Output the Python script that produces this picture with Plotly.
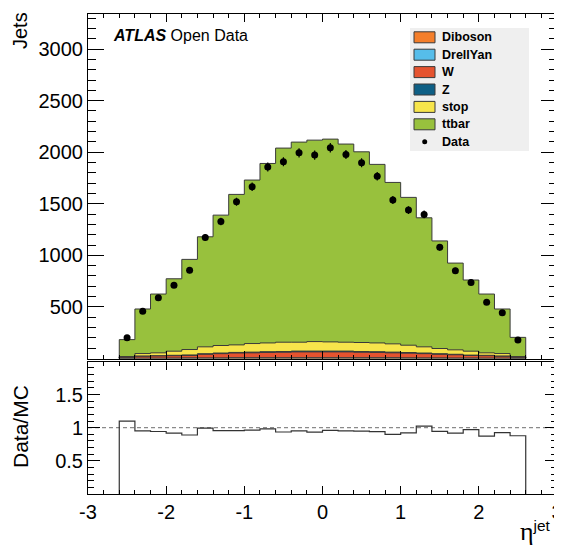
import numpy as np
import plotly.graph_objects as go

# ---------------- data ----------------
eta_edges = [-2.6, -2.4, -2.2, -2.0, -1.8, -1.6, -1.4, -1.2, -1.0, -0.8, -0.6, -0.4, -0.2,
             0.0, 0.2, 0.4, 0.6, 0.8, 1.0, 1.2, 1.4, 1.6, 1.8, 2.0, 2.2, 2.4, 2.6]
eta_centers = [-2.5, -2.3, -2.1, -1.9, -1.7, -1.5, -1.3, -1.1, -0.9, -0.7, -0.5, -0.3, -0.1,
               0.1, 0.3, 0.5, 0.7, 0.9, 1.1, 1.3, 1.5, 1.7, 1.9, 2.1, 2.3, 2.5]

diboson = [1, 2, 2, 2, 3, 3, 3, 4, 4, 4, 4, 4, 4, 4, 4, 4, 4, 4, 3, 3, 3, 2, 2, 2, 2, 1]
drellyan = [1, 1, 1, 2, 2, 2, 2, 3, 3, 3, 3, 3, 3, 3, 3, 3, 3, 3, 3, 2, 2, 2, 2, 1, 1, 1]
w_jets = [10, 18, 21, 23, 25, 36, 42, 46, 48, 52, 54, 57, 57, 57, 57, 54, 52, 48, 46, 42, 36, 32, 25, 24, 18, 10]
z_jets = [2, 3, 3, 4, 4, 5, 6, 6, 7, 7, 7, 8, 8, 8, 8, 7, 7, 7, 6, 6, 5, 5, 4, 4, 3, 2]
stop = [4, 24, 28, 40, 53, 67, 73, 73, 83, 85, 90, 86, 92, 89, 86, 87, 85, 80, 71, 60, 51, 43, 38, 24, 24, 4]
ttbar = [165, 432, 570, 702, 874, 1067, 1264, 1459, 1585, 1740, 1882, 1940, 1953, 1966, 1921,
         1849, 1731, 1565, 1433, 1251, 1043, 841, 690, 570, 432, 187]
data = [201, 457, 589, 709, 855, 1173, 1329, 1519, 1665, 1856, 1907, 1994, 1972, 2043, 1978,
        1897, 1767, 1536, 1439, 1397, 1078, 850, 738, 545, 444, 180]

x_tick_vals = [-3, -2, -1, 0, 1, 2, 3]
x_tick_text = ["-3", "-2", "-1", "0", "1", "2", "3"]
y_tick_vals = [500, 1000, 1500, 2000, 2500, 3000]
r_tick_vals = [0.5, 1, 1.5]
r_tick_text = ["0.5", "1", "1.5"]

sample_names = ["Diboson", "DrellYan", "W", "Z", "stop", "ttbar"]
sample_values = [diboson, drellyan, w_jets, z_jets, stop, ttbar]
sample_colors = ["#F47E2A", "#56BDEA", "#E5532F", "#0E5F85", "#F7E54B", "#98C13D"]

# ---------------- geometry (page pixels; page body has an 8px margin) ----------------
OFF = 8
W, H = 562 - OFF, 546 - OFF
PL, PR, PT, PB = 88, 557, 14, 494          # plot area in page pixels
ML, MT = PL - OFF, PT - OFF
MR = (W + OFF) - PR
MB = (H + OFF) - PB
PW = PR - PL
PH = PB - PT


def px(x):
    return (x - PL) / PW


def py(y):
    return (PB - y) / PH


FONT = "Liberation Sans, Arial, Helvetica, sans-serif"
OUTLINE = "#3a3a3a"


def step(vals):
    x = [eta_edges[0]] + list(eta_edges) + [eta_edges[-1]]
    y = [0] + list(vals) + [vals[-1], 0]
    return x, y


fig = go.Figure()

cum = np.zeros(len(eta_centers))
cums = []
for name, vals, col in zip(sample_names, sample_values, sample_colors):
    cum = cum + np.array(vals, dtype=float)
    cums.append((name, cum.copy(), col))

for name, c, col in reversed(cums):
    sx, sy = step(c)
    fig.add_trace(go.Scatter(x=sx, y=sy, mode="lines",
                             line=dict(shape="hv", color=OUTLINE, width=1),
                             fill="tozeroy", fillcolor=col, name=name,
                             showlegend=False, hoverinfo="skip",
                             xaxis="x", yaxis="y"))

data_arr = np.array(data, dtype=float)
fig.add_trace(go.Scatter(x=eta_centers, y=data, mode="markers", name="Data",
                         marker=dict(color="black", size=7),
                         error_y=dict(type="data", array=np.sqrt(data_arr),
                                      color="black", thickness=1.2, width=0),
                         showlegend=False, xaxis="x", yaxis="y"))

mc_total = cums[-1][1]
ratio = data_arr / mc_total
rx, ry = step(ratio)
fig.add_trace(go.Scatter(x=rx, y=ry, mode="lines",
                         line=dict(shape="hv", color="#333333", width=1.2),
                         showlegend=False, hoverinfo="skip",
                         xaxis="x2", yaxis="y2"))

top_bottom = py(358.5)
bot_top = py(362)

common_x = dict(range=[-3, 3], showgrid=False, zeroline=False, showline=True,
                linecolor="black", linewidth=1, mirror="allticks", automargin=False,
                ticks="inside", ticklen=8, tickcolor="black", tickwidth=1,
                tickmode="array", tickvals=x_tick_vals, ticktext=x_tick_text,
                ticklabeloverflow="allow",
                minor=dict(ticks="inside", ticklen=4, tickmode="linear", tick0=0,
                           dtick=0.2, tickcolor="black", showgrid=False),
                tickfont=dict(family=FONT, size=20, color="black"))

fig.update_layout(
    width=W, height=H,
    margin=dict(l=ML, r=MR, t=MT, b=MB, autoexpand=False),
    paper_bgcolor="white", plot_bgcolor="white",
    showlegend=False,
    xaxis=dict(common_x, anchor="y", showticklabels=False, domain=[0, 1]),
    yaxis=dict(domain=[top_bottom, 1], range=[0, 3340], showgrid=False, zeroline=False,
               showline=True, linecolor="black", linewidth=1, mirror="allticks",
               automargin=False, ticklabeloverflow="allow",
               ticks="inside", ticklen=16, tickcolor="black",
               tickmode="array", tickvals=y_tick_vals,
               minor=dict(ticks="inside", ticklen=8, tickmode="linear", tick0=0,
                          dtick=100, tickcolor="black", showgrid=False),
               tickfont=dict(family=FONT, size=20, color="black")),
    xaxis2=dict(common_x, anchor="y2", domain=[0, 1]),
    yaxis2=dict(domain=[0, bot_top], range=[0, 1.99], showgrid=False, zeroline=False,
                showline=True, linecolor="black", linewidth=1, mirror="allticks",
                automargin=False, ticklabeloverflow="allow",
                ticks="inside", ticklen=12, tickcolor="black",
                tickmode="array", tickvals=r_tick_vals, ticktext=r_tick_text,
                minor=dict(ticks="inside", ticklen=6, tickmode="linear", tick0=0,
                           dtick=0.1, tickcolor="black", showgrid=False),
                tickfont=dict(family=FONT, size=20, color="black")),
)

fig.add_shape(type="line", xref="x2", yref="y2", x0=-3, x1=3, y0=1, y1=1,
              line=dict(color="#8a8a8a", width=1.2, dash="4px,3px"), layer="below")

annotations = []
annotations.append(dict(text="Jets", x=px(20), y=py(31), xref="paper", yref="paper",
                        showarrow=False, textangle=-90, xanchor="center", yanchor="middle",
                        font=dict(family=FONT, size=20, color="black")))
annotations.append(dict(text="Data/MC", x=px(20), y=py(427), xref="paper", yref="paper",
                        showarrow=False, textangle=-90, xanchor="center", yanchor="middle",
                        font=dict(family=FONT, size=21, color="black")))
annotations.append(dict(text="<span style='font-family:Liberation Serif;font-size:26px'>η</span><sup>jet</sup>",
                        x=px(553), y=py(531), xref="paper", yref="paper",
                        showarrow=False, xanchor="right", yanchor="middle",
                        font=dict(family=FONT, size=22, color="black")))
annotations.append(dict(text="<b><i>ATLAS</i></b> Open Data", x=px(111), y=py(36),
                        xref="paper", yref="paper", showarrow=False,
                        xanchor="left", yanchor="middle",
                        font=dict(family=FONT, size=16, color="black")))

shapes = []
shapes.append(dict(type="rect", xref="paper", yref="paper",
                   x0=px(410), x1=px(529), y0=py(151), y1=py(28),
                   fillcolor="#efefef", line=dict(width=0), layer="above"))
item_y = [37.3, 54.7, 72.1, 89.5, 106.9, 124.3, 141.7]
for i, (name, col) in enumerate(zip(sample_names, sample_colors)):
    yc = item_y[i]
    shapes.append(dict(type="rect", xref="paper", yref="paper",
                       x0=px(414), x1=px(435), y0=py(yc + 5.5), y1=py(yc - 5.5),
                       fillcolor=col, line=dict(color=OUTLINE, width=1), layer="above"))
    annotations.append(dict(text="<b>%s</b>" % name, x=px(440), y=py(yc), xref="paper",
                            yref="paper", showarrow=False, xanchor="left", yanchor="middle",
                            font=dict(family=FONT, size=12.5, color="black")))
yc = item_y[6]
shapes.append(dict(type="circle", xref="paper", yref="paper",
                   x0=px(422.2), x1=px(427.2), y0=py(yc + 2.5), y1=py(yc - 2.5),
                   fillcolor="black", line=dict(color="black", width=0), layer="above"))
annotations.append(dict(text="<b>Data</b>", x=px(440), y=py(yc), xref="paper", yref="paper",
                        showarrow=False, xanchor="left", yanchor="middle",
                        font=dict(family=FONT, size=12.5, color="black")))

for s in shapes:
    fig.add_shape(**s)
fig.update_layout(annotations=annotations)

fig.write_html("out.html")
